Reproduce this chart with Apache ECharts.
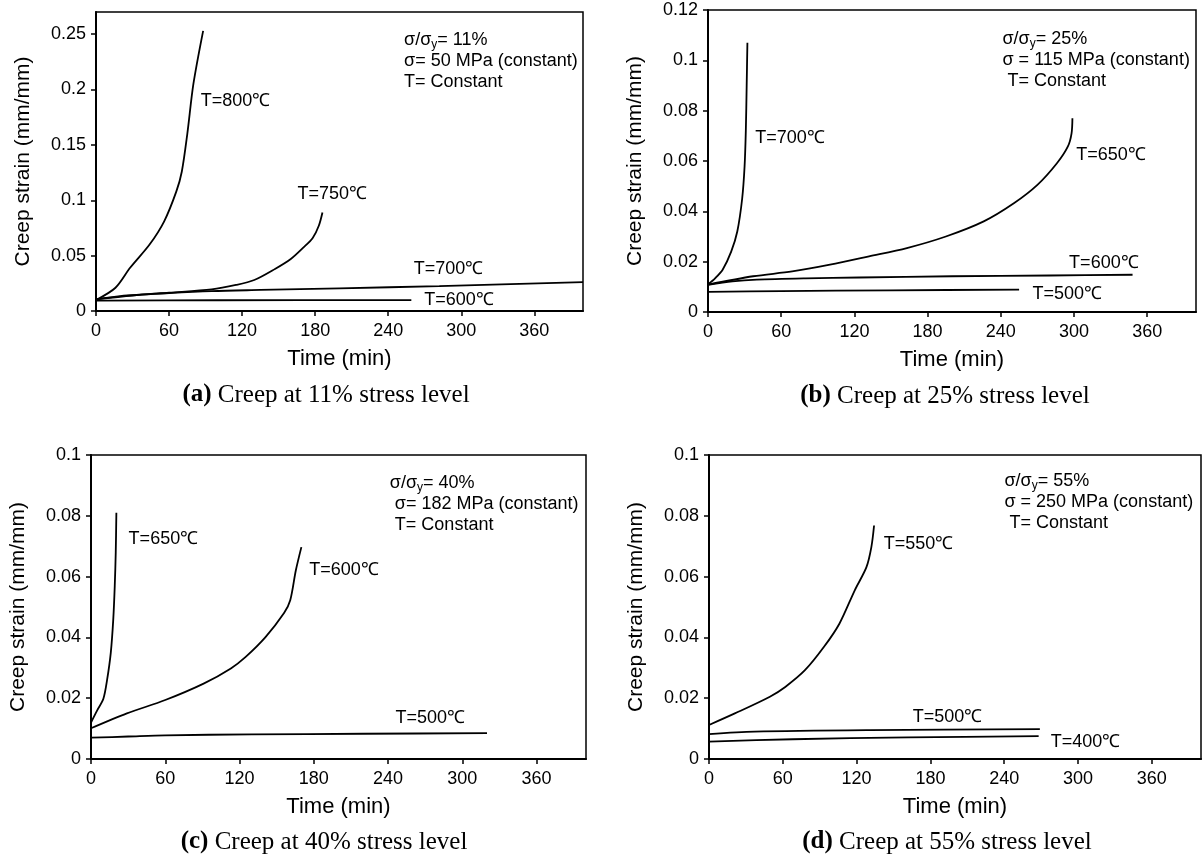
<!DOCTYPE html>
<html>
<head>
<meta charset="utf-8">
<title>Creep strain curves</title>
<script src="https://cdn.jsdelivr.net/npm/echarts@6/dist/echarts.min.js"></script>
</head>
<body style="margin:0;background:#fff">
<div id="main" style="width:1203px;height:859px;"></div>
<script>
// tick values
var timeTicks = [0, 60, 120, 180, 240, 300, 360];
var strainTicksA = [0, 0.05, 0.1, 0.15, 0.2, 0.25];
var strainTicksB = [0, 0.02, 0.04, 0.06, 0.08, 0.1, 0.12];
var strainTicksC = [0, 0.02, 0.04, 0.06, 0.08, 0.1];

// (a) 11% stress level  [time (min), strain]
var a800 = [[0,0.0099],[16,0.021],[28,0.039],[44,0.060],[56,0.081],[66,0.108],[70.5,0.126],[75,0.160],[80,0.205],[88,0.253]];
var a750 = [[0,0.0105],[30,0.014],[60,0.0165],[95,0.0195],[115,0.0235],[130,0.028],[147,0.038],[160,0.047],[170,0.057],[178,0.066],[183,0.077],[186,0.089]];
var a700 = [[0,0.0105],[20,0.0135],[60,0.0162],[95,0.018],[135,0.019],[200,0.0205],[282,0.0225],[400,0.026]];
var a600 = [[0,0.0093],[100,0.0097],[259,0.0099]];

// (b) 25% stress level
var b700 = [[0,0.011],[6,0.0135],[12,0.0168],[19,0.024],[24,0.032],[28,0.045],[30,0.058],[31,0.072],[31.7,0.09],[32.3,0.107]];
var b650 = [[0,0.0109],[37,0.0142],[69,0.0161],[100,0.0188],[132,0.0221],[163,0.0254],[195,0.030],[226,0.036],[251,0.0433],[270,0.0505],[286,0.0591],[295,0.0658],[298,0.071],[298.7,0.077]];
var b600 = [[0,0.0108],[20,0.0122],[40,0.0129],[80,0.0134],[124,0.0137],[200,0.0142],[280,0.0145],[348,0.0148]];
var b500 = [[0,0.008],[60,0.0083],[150,0.0086],[255,0.0089]];

// (c) 40% stress level
var c650 = [[0,0.012],[5,0.016],[10,0.0198],[13,0.026],[16,0.035],[18,0.046],[19.2,0.057],[20,0.068],[20.5,0.081]];
var c600 = [[0,0.0101],[29,0.015],[60,0.0194],[91,0.0248],[113,0.0298],[125,0.0336],[141,0.0401],[156,0.048],[161,0.0522],[165.5,0.062],[170,0.0697]];
var c500 = [[0,0.007],[30,0.0074],[60,0.0078],[130,0.0081],[220,0.0083],[320,0.0085]];

// (d) 55% stress level
var d550 = [[0,0.0112],[21,0.015],[49.5,0.0205],[62,0.0237],[78,0.0292],[93.5,0.0369],[106,0.0445],[118.5,0.0555],[128,0.0631],[132,0.0697],[134.2,0.0768]];
var d500 = [[0,0.0082],[37,0.009],[131,0.0095],[269,0.0098]];
var d400 = [[0,0.0057],[68,0.0065],[162,0.0071],[268,0.0075]];

// curve labels: [text, time, strain]
var notesA = [['T=800℃', 86, 0.19], ['T=750℃', 165.5, 0.106], ['T=700℃', 261, 0.0382], ['T=600℃', 269.6, 0.0101]];
var notesB = [['T=700℃', 38.8, 0.0693], ['T=650℃', 301.9, 0.0624], ['T=600℃', 296, 0.0194], ['T=500℃', 266, 0.0070]];
var notesC = [['T=650℃', 30.4, 0.0722], ['T=600℃', 176.3, 0.0622], ['T=500℃', 246, 0.0136]];
var notesD = [['T=550℃', 142, 0.0708], ['T=500℃', 165.6, 0.0139], ['T=400℃', 277.8, 0.0057]];

var sans = 'Liberation Sans';
var serif = 'Liberation Serif';

var grids = [
    {left: 96, top: 12, width: 487, height: 299},
    {left: 708, top: 10, width: 488, height: 302},
    {left: 91, top: 455, width: 495, height: 304},
    {left: 709, top: 455, width: 492, height: 304}
];
var yMax = [0.27, 0.12, 0.1, 0.1];
var yTicks = [strainTicksA, strainTicksB, strainTicksC, strainTicksC];

function note(text, t, v, top) {
    return {
        coord: [t, v],
        value: 0,
        label: {formatter: text, verticalAlign: top ? 'top' : 'middle'}
    };
}

function curve(gi, data, marks) {
    var s = {
        type: 'line',
        xAxisIndex: gi,
        yAxisIndex: gi,
        data: data,
        smooth: 0.3,
        showSymbol: false,
        silent: true,
        lineStyle: {color: '#000', width: 1.8},
        z: 3
    };
    if (marks) {
        s.markPoint = {
            symbol: 'circle',
            symbolSize: 1,
            silent: true,
            itemStyle: {color: 'rgba(0,0,0,0)'},
            label: {
                show: true, position: 'inside', align: 'left',
                color: '#000', fontFamily: sans, fontSize: 18,
                rich: {
                    t: {fontFamily: sans, fontSize: 18, lineHeight: 21, color: '#000'},
                    s: {fontFamily: sans, fontSize: 12, lineHeight: 12, verticalAlign: 'bottom', color: '#000'}
                }
            },
            data: marks
        };
    }
    return s;
}

function marksFrom(notes) {
    return notes.map(function (n) { return note(n[0], n[1], n[2]); });
}

function block(l1, l2, l3, t, v) {
    var txt = '{t|σ/σ}{s|y}{t|' + l1 + '}\n{t|' + l2 + '}\n{t|' + l3 + '}';
    return note(txt, t, v, true);
}

var series = [
    curve(0, a800, marksFrom(notesA).concat([block('= 11%', 'σ= 50 MPa (constant)', 'T= Constant', 253, 0.2538)])),
    curve(0, a750), curve(0, a700), curve(0, a600),
    curve(1, b700, marksFrom(notesB).concat([block('= 25%', 'σ = 115 MPa (constant)', ' T= Constant', 241.4, 0.1125)])),
    curve(1, b650), curve(1, b600), curve(1, b500),
    curve(2, c650, marksFrom(notesC).concat([block('= 40%', ' σ= 182 MPa (constant)', ' T= Constant', 241.5, 0.0941)])),
    curve(2, c600), curve(2, c500),
    curve(3, d550, marksFrom(notesD).concat([block('= 55%', 'σ = 250 MPa (constant)', ' T= Constant', 240.2, 0.0949)])),
    curve(3, d500), curve(3, d400)
];

var xAxes = [], yAxes = [];
for (var i = 0; i < 4; i++) {
    xAxes.push({
        type: 'value', gridIndex: i, min: 0, max: 400,
        name: 'Time (min)', nameLocation: 'middle', nameGap: 37,
        nameTextStyle: {color: '#000', fontFamily: sans, fontSize: 22},
        axisLine: {onZero: false, lineStyle: {color: '#000', width: 2}},
        axisTick: {length: 5, customValues: timeTicks, lineStyle: {color: '#000', width: 1.5}},
        axisLabel: {customValues: timeTicks, color: '#000', fontFamily: sans, fontSize: 18, margin: 11},
        splitLine: {show: false}
    });
    yAxes.push({
        type: 'value', gridIndex: i, min: 0, max: yMax[i],
        name: 'Creep strain (mm/mm)', nameLocation: 'middle', nameGap: 62,
        nameTextStyle: {color: '#000', fontFamily: sans, fontSize: 21},
        axisLine: {onZero: false, lineStyle: {color: '#000', width: 2}},
        axisTick: {length: 5, customValues: yTicks[i], lineStyle: {color: '#000', width: 1.5}},
        axisLabel: {customValues: yTicks[i], color: '#000', fontFamily: sans, fontSize: 18, margin: 10},
        splitLine: {show: false}
    });
}

function caption(letter, text, x, y) {
    return {
        type: 'text', x: x, y: y, silent: true,
        style: {
            text: '{b|(' + letter + ')} ' + text,
            fontFamily: serif, fontSize: 25, fill: '#000',
            align: 'center', verticalAlign: 'middle',
            rich: {b: {fontFamily: serif, fontSize: 25, fontWeight: 'bold'}}
        }
    };
}

var myChart = echarts.init(document.getElementById('main'));
var option = {
    backgroundColor: '#fff',
    animation: false,
    grid: grids.map(function (g) {
        return {left: g.left, top: g.top, width: g.width, height: g.height,
                show: true, borderColor: '#000', borderWidth: 1.5, containLabel: false};
    }),
    xAxis: xAxes,
    yAxis: yAxes,
    series: series,
    graphic: [
        caption('a', 'Creep at 11% stress level', 326, 395),
        caption('b', 'Creep at 25% stress level', 945, 396),
        caption('c', 'Creep at 40% stress level', 324, 842),
        caption('d', 'Creep at 55% stress level', 947, 842)
    ]
};
myChart.setOption(option);
</script>
</body>
</html>
